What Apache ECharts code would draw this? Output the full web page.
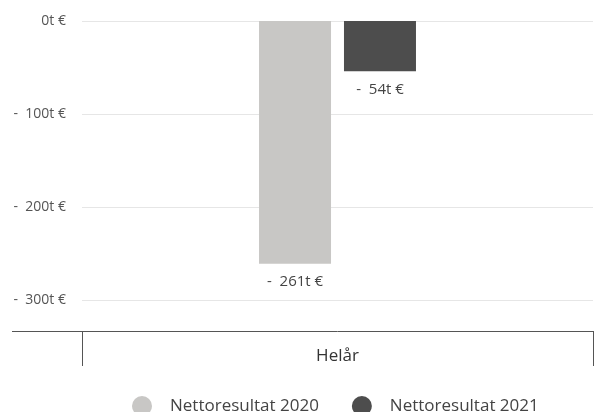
<!DOCTYPE html>
<html>
<head>
<meta charset="utf-8">
<script src="https://cdn.jsdelivr.net/npm/echarts@6/dist/echarts.min.js"></script>
<style>
html,body{margin:0;padding:0;background:#fff;}
#chart{width:602px;height:412px;}
</style>
</head>
<body>
<div id="chart"></div>
<script>
const categories = ['Helår'];
const seriesNames = ['Nettoresultat 2020', 'Nettoresultat 2021'];
const values2020 = [-261];
const values2021 = [-54];
const yMin = -300, yMax = 0, yStep = 100;

function fmtAxis(v) {
  return v === 0 ? '0t €' : '-  ' + Math.abs(v) + 't €';
}
function fmtLabel(v) {
  return v === 0 ? '0t €' : '-  ' + Math.abs(v) + 't €';
}

const chart = echarts.init(document.getElementById('chart'), null, {renderer: 'canvas'});
const FONT = '"Open Sans", sans-serif';
chart.setOption({
  animation: false,
  textStyle: {fontFamily: FONT},
  grid: {left: 82, right: 9, top: 21, bottom: 112, containLabel: false},
  legend: {
    bottom: -9,
    left: 127,
    icon: 'circle',
    itemWidth: 20,
    itemHeight: 20,
    itemGap: 33,
    textStyle: {fontFamily: FONT, fontSize: 17, color: '#444', padding: [0, 0, 0, 13]},
    data: seriesNames
  },
  xAxis: {
    type: 'category',
    data: categories,
    offset: 31,
    axisLine: {onZero: false, lineStyle: {color: '#555', width: 1}},
    axisTick: {show: true, length: 35, lineStyle: {color: '#555'}},
    axisLabel: {fontFamily: FONT, fontSize: 17, color: '#333', margin: 17}
  },
  yAxis: {
    type: 'value',
    min: yMin, max: yMax, interval: yStep,
    axisLine: {show: false},
    axisTick: {show: false},
    splitLine: {lineStyle: {color: '#e6e6e6'}},
    axisLabel: {fontFamily: FONT, fontSize: 14, color: '#555', margin: 16, padding: [3, 0, 0, 0], formatter: fmtAxis}
  },
  graphic: [{
    type: 'line',
    shape: {x1: 12, y1: 331.5, x2: 82, y2: 331.5},
    style: {stroke: '#555', lineWidth: 1}
  }],
  series: [
    {
      name: seriesNames[0], type: 'bar', data: values2020,
      barWidth: 72, barGap: '18%',
      itemStyle: {color: '#c8c7c5'},
      label: {show: true, position: 'bottom', distance: 11, fontFamily: FONT, fontSize: 15, color: '#444', formatter: p => fmtLabel(p.value)}
    },
    {
      name: seriesNames[1], type: 'bar', data: values2021,
      barWidth: 72, barGap: '18%',
      itemStyle: {color: '#4d4d4d'},
      label: {show: true, position: 'bottom', distance: 11, fontFamily: FONT, fontSize: 15, color: '#444', formatter: p => fmtLabel(p.value)}
    }
  ]
});
</script>
</body>
</html>
